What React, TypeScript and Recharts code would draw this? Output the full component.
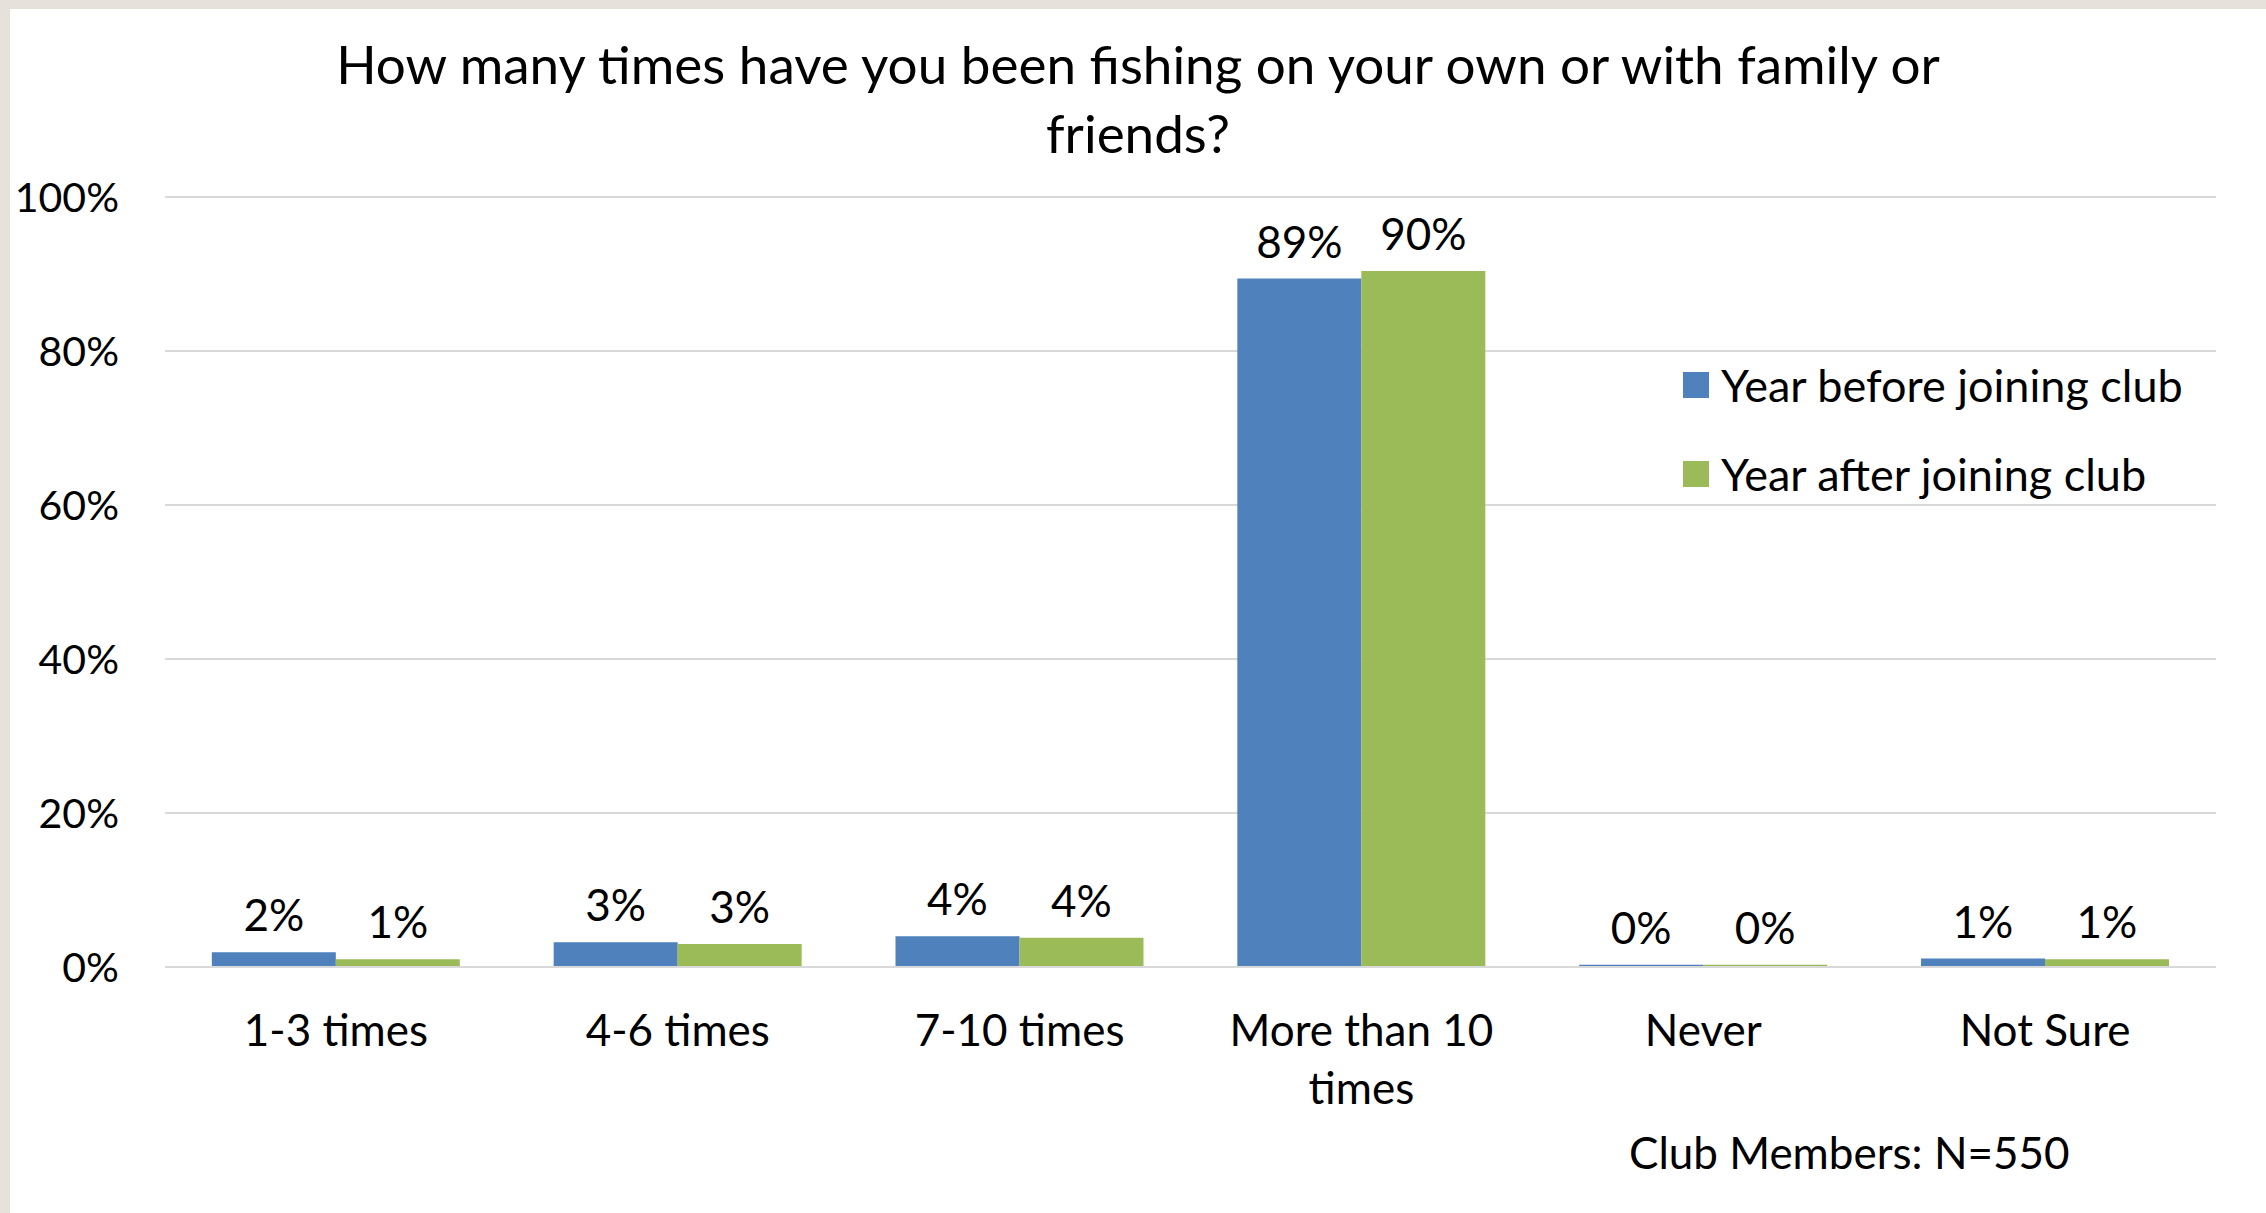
import React from 'react';
import { BarChart, Bar, XAxis, YAxis, CartesianGrid, Legend, LabelList } from 'recharts';

const categories = ['1-3 times', '4-6 times', '7-10 times', 'More than 10 times', 'Never', 'Not Sure'];
const yearBefore = [1.9, 3.2, 4.0, 89.4, 0.3, 1.1];
const yearAfter = [1.0, 3.0, 3.8, 90.4, 0.3, 1.0];
const seriesNames = ['Year before joining club', 'Year after joining club'];
const yTicks = [0, 20, 40, 60, 80, 100];
const titleLines = ['How many times have you been fishing on your own or with family or', 'friends?'];
const note = 'Club Members: N=550';

const BLUE = '#4f81bd';
const GREEN = '#9bbb59';
const GRID = '#d9d9d9';
const FONT = 'Lato, Carlito, Calibri, sans-serif';
const FS = 44;

const data = categories.map((name, i) => ({ name, before: yearBefore[i], after: yearAfter[i] }));

// greedy word wrap by character count (category labels are short)
const wrap = (s: string, max = 13) => {
  const lines: string[] = [];
  let cur = '';
  s.split(' ').forEach((w) => {
    const next = cur ? `${cur} ${w}` : w;
    if (next.length > max && cur) {
      lines.push(cur);
      cur = w;
    } else cur = next;
  });
  if (cur) lines.push(cur);
  return lines;
};

const CategoryTick = (props: any) => {
  const { x, y, payload } = props;
  return (
    <text x={x} y={y} textAnchor="middle" fill="#000" fontSize={FS} fontFamily={FONT}>
      {wrap(String(payload.value)).map((l, i) => (
        <tspan key={i} x={x} dy={i === 0 ? 31 : 58}>
          {l}
        </tspan>
      ))}
    </text>
  );
};

const LegendContent = () => (
  <div style={{ fontFamily: FONT, fontSize: 45, color: '#000' }}>
    {seriesNames.map((s, i) => (
      <div key={s} style={{ display: 'flex', alignItems: 'center', height: 89 }}>
        <div style={{ width: 26, height: 26, background: i === 0 ? BLUE : GREEN, marginRight: 12 }} />
        <span style={{ whiteSpace: 'nowrap' }}>{s}</span>
      </div>
    ))}
  </div>
);

export default function App() {
  return (
    <div style={{ position: 'absolute', left: 0, top: 0, width: 2266, height: 1213, background: '#e7e1dc' }}>
      <div style={{ position: 'absolute', left: 10, top: 9, width: 2256, height: 1204, background: '#fff' }}>
        <div
          style={{
            position: 'absolute',
            left: 0,
            top: 20,
            width: 2256,
            textAlign: 'center',
            fontFamily: FONT,
            fontSize: 53,
            lineHeight: '69px',
            color: '#000',
          }}
        >
          {titleLines.map((l) => (
            <div key={l}>{l}</div>
          ))}
        </div>
        <BarChart
          width={2256}
          height={1204}
          data={data}
          margin={{ top: 188, right: 50, left: 15, bottom: 96 }}
          barCategoryGap="13.7%"
          barGap={0}
        >
          <CartesianGrid vertical={false} stroke={GRID} strokeWidth={2} />
          <XAxis
            dataKey="name"
            tick={<CategoryTick />}
            tickLine={false}
            tickSize={0}
            tickMargin={48}
            axisLine={{ stroke: GRID, strokeWidth: 2 }}
            height={150}
            interval={0}
          />
          <YAxis
            domain={[0, 100]}
            ticks={yTicks}
            tickFormatter={(v) => `${v}%`}
            axisLine={false}
            tickLine={false}
            tickSize={0}
            tickMargin={46}
            width={140}
            tick={{ fill: '#000', fontSize: 41, fontFamily: FONT }}
          />
          <Legend
            layout="vertical"
            verticalAlign="middle"
            align="center"
            content={<LegendContent />}
            wrapperStyle={{ top: 331, left: 1673, width: 560 }}
          />
          <Bar dataKey="before" name={seriesNames[0]} fill={BLUE} isAnimationActive={false}>
            <LabelList
              dataKey="before"
              position="top"
              offset={21}
              formatter={(v: any) => `${Math.round(v)}%`}
              style={{ fill: '#000', fontSize: FS, fontFamily: FONT }}
            />
          </Bar>
          <Bar dataKey="after" name={seriesNames[1]} fill={GREEN} isAnimationActive={false}>
            <LabelList
              dataKey="after"
              position="top"
              offset={21}
              formatter={(v: any) => `${Math.round(v)}%`}
              style={{ fill: '#000', fontSize: FS, fontFamily: FONT }}
            />
          </Bar>
        </BarChart>
        <div
          style={{
            position: 'absolute',
            left: 1619,
            top: 1113,
            fontFamily: FONT,
            fontSize: FS,
            lineHeight: '60px',
            color: '#000',
            whiteSpace: 'nowrap',
          }}
        >
          {note}
        </div>
      </div>
    </div>
  );
}
